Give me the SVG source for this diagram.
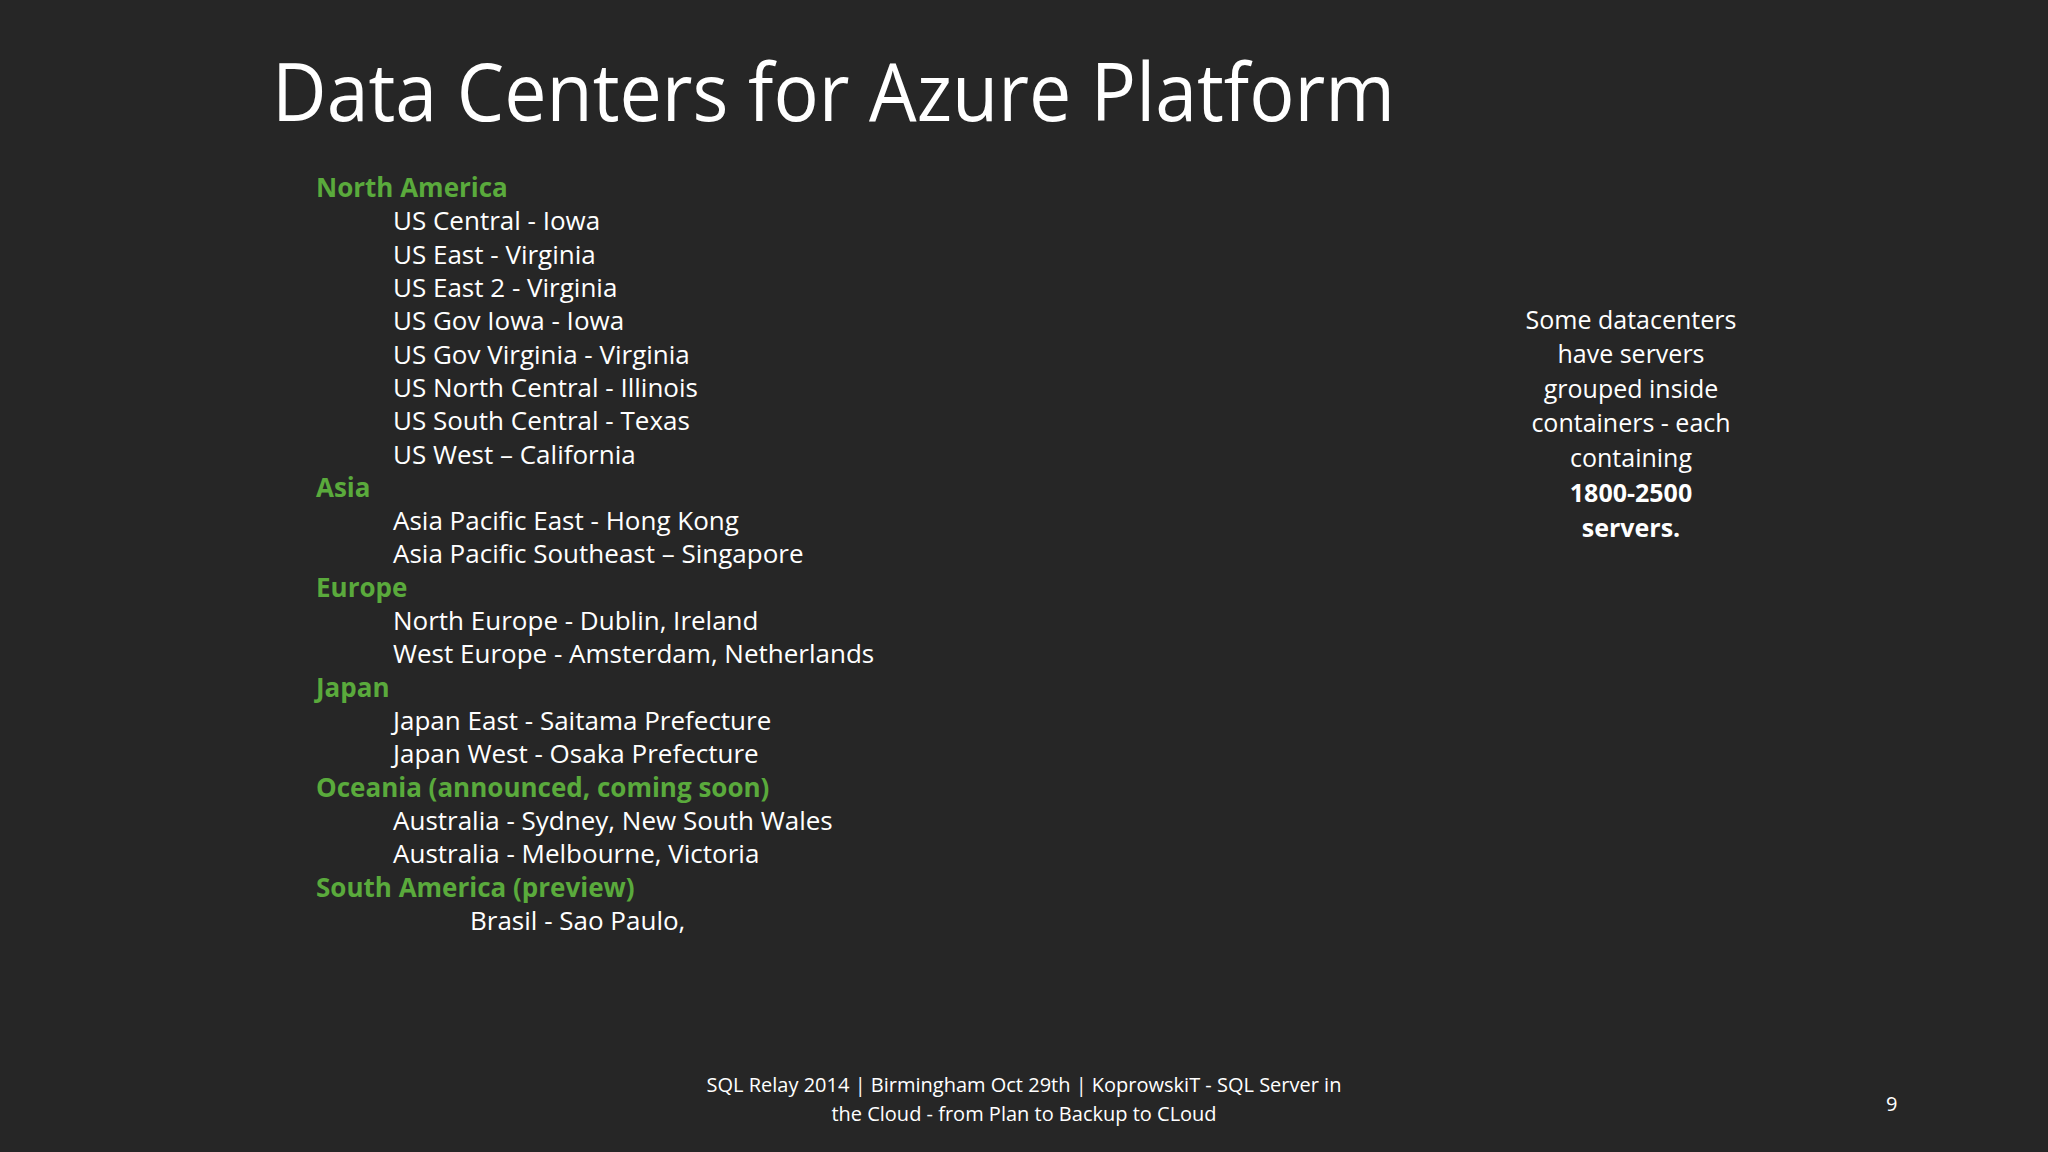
<svg xmlns="http://www.w3.org/2000/svg" width="2048" height="1152" viewBox="0 0 2048 1152">
<style>
text{font-family:"Open Sans","Liberation Sans",sans-serif;fill:#ffffff}
.h{fill:#5aaa3c;font-weight:bold;font-size:26px}
.i{font-size:26px}
.r{font-size:25px;text-anchor:middle}
.f{font-size:20px;text-anchor:middle}
</style>
<rect width="2048" height="1152" fill="#262626"/>
<text x="272" y="121" font-size="80" textLength="1123" lengthAdjust="spacingAndGlyphs">Data Centers for Azure Platform</text>
<g id="list">
<text class="h" x="316" y="197">North America</text>
<text class="i" x="393" y="230">US Central - Iowa</text>
<text class="i" x="393" y="264">US East - Virginia</text>
<text class="i" x="393" y="297">US East 2 - Virginia</text>
<text class="i" x="393" y="330">US Gov Iowa - Iowa</text>
<text class="i" x="393" y="364">US Gov Virginia - Virginia</text>
<text class="i" x="393" y="397">US North Central - Illinois</text>
<text class="i" x="393" y="430">US South Central - Texas</text>
<text class="i" x="393" y="464">US West – California</text>
<text class="h" x="316" y="497">Asia</text>
<text class="i" x="393" y="530">Asia Pacific East - Hong Kong</text>
<text class="i" x="393" y="563">Asia Pacific Southeast – Singapore</text>
<text class="h" x="316" y="597">Europe</text>
<text class="i" x="393" y="630">North Europe - Dublin, Ireland</text>
<text class="i" x="393" y="663">West Europe - Amsterdam, Netherlands</text>
<text class="h" x="316" y="697">Japan</text>
<text class="i" x="393" y="730">Japan East - Saitama Prefecture</text>
<text class="i" x="393" y="763">Japan West - Osaka Prefecture</text>
<text class="h" x="316" y="797">Oceania (announced, coming soon)</text>
<text class="i" x="393" y="830">Australia - Sydney, New South Wales</text>
<text class="i" x="393" y="863">Australia - Melbourne, Victoria</text>
<text class="h" x="316" y="897">South America (preview)</text>
<text class="i" x="470" y="930">Brasil - Sao Paulo,</text>
</g>
<g id="note">
<text class="r" x="1631" y="329">Some datacenters</text>
<text class="r" x="1631" y="363">have servers</text>
<text class="r" x="1631" y="398">grouped inside</text>
<text class="r" x="1631" y="432">containers - each</text>
<text class="r" x="1631" y="467">containing</text>
<text class="r" x="1631" y="502" font-weight="bold">1800-2500</text>
<text class="r" x="1631" y="537" font-weight="bold">servers.</text>
</g>
<g id="footer">
<text class="f" x="1024" y="1092">SQL Relay 2014 | Birmingham Oct 29th | KoprowskiT - SQL Server in</text>
<text class="f" x="1024" y="1121">the Cloud - from Plan to Backup to CLoud</text>
<text x="1886" y="1111" font-size="20">9</text>
</g>
</svg>
